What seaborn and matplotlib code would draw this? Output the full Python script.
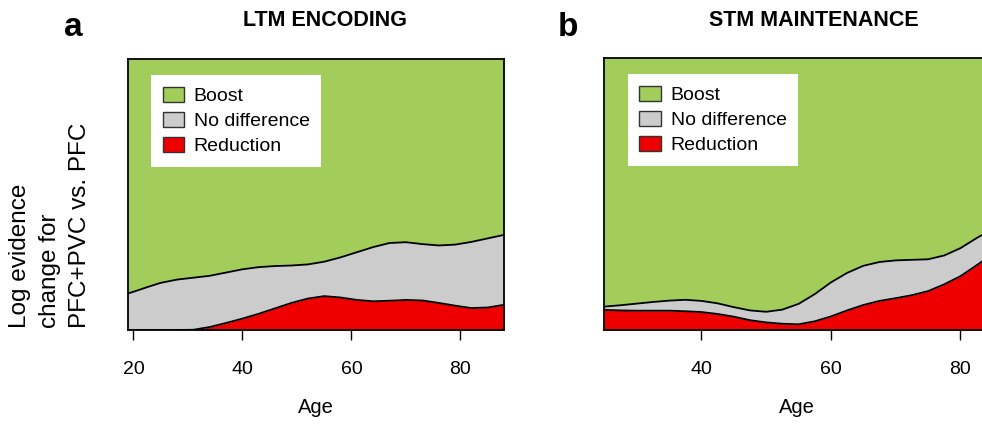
import numpy as np
import pandas as pd
import seaborn as sns
import matplotlib.pyplot as plt
from matplotlib.patches import Patch

# panel a: LTM encoding (cumulative proportions)
age_a = [19, 20, 22.5, 25, 28, 31, 34, 37, 40, 43, 46, 49, 52, 55, 58,
         61, 64, 67, 70, 73, 76, 79, 82, 85, 88]
red_top_a = [0, 0, 0, 0, 0, 0.001, 0.011, 0.026, 0.042, 0.060, 0.080, 0.100,
             0.116, 0.125, 0.120, 0.111, 0.106, 0.108, 0.111, 0.109, 0.100,
             0.090, 0.081, 0.083, 0.093]
gray_top_a = [0.135, 0.141, 0.158, 0.174, 0.186, 0.193, 0.200, 0.212, 0.224,
              0.232, 0.236, 0.238, 0.242, 0.252, 0.268, 0.287, 0.306, 0.321,
              0.324, 0.317, 0.312, 0.315, 0.325, 0.338, 0.351]

# panel b: STM maintenance
age_b = [25, 27.5, 30, 32.5, 35, 37.5, 40, 42.5, 45, 47.5, 50, 52.5, 55, 57.5,
         60, 62.5, 65, 67.5, 70, 72.5, 75, 77.5, 80, 82.5, 84.5]
red_top_b = [0.074, 0.072, 0.071, 0.071, 0.071, 0.069, 0.066, 0.059, 0.049,
             0.036, 0.028, 0.023, 0.021, 0.032, 0.050, 0.072, 0.092, 0.107,
             0.117, 0.128, 0.143, 0.168, 0.198, 0.238, 0.272]
gray_top_b = [0.086, 0.091, 0.097, 0.103, 0.108, 0.111, 0.107, 0.098, 0.084,
              0.072, 0.067, 0.075, 0.096, 0.132, 0.175, 0.210, 0.236, 0.250,
              0.256, 0.258, 0.260, 0.274, 0.301, 0.338, 0.365]

labels = ["Boost", "No difference", "Reduction"]
colors = ["#A2CD5A", "#CCCCCC", "#EE0000"]

sns.set_style("white")
plt.rcParams['font.family'] = ['Liberation Sans', 'DejaVu Sans']
plt.rcParams['text.color'] = 'black'
plt.rcParams['axes.labelcolor'] = 'black'
plt.rcParams['xtick.color'] = 'black'

W, H = 982, 424
fig = plt.figure(figsize=(W / 100, H / 100), dpi=100)


def px_axes(l, t, r, b):
    return fig.add_axes([l / W, 1 - b / H, (r - l) / W, (b - t) / H])


def draw_panel(ax, age, red_top, gray_top, xlim, ticks):
    df = pd.DataFrame({"age": age, "red": red_top, "gray": gray_top})
    ax.fill_between(df["age"], 0, df["red"], color=colors[2], lw=0)
    ax.fill_between(df["age"], df["red"], df["gray"], color=colors[1], lw=0)
    ax.fill_between(df["age"], df["gray"], 1, color=colors[0], lw=0)
    sns.lineplot(data=df, x="age", y="red", ax=ax, color="black", lw=1.3)
    sns.lineplot(data=df, x="age", y="gray", ax=ax, color="black", lw=1.3)
    ax.set_xlim(*xlim)
    ax.set_ylim(0, 1)
    ax.set_xticks(ticks)
    ax.set_yticks([])
    ax.set_ylabel("")
    ax.set_xlabel("Age", fontsize=14.5, labelpad=15)
    ax.tick_params(axis="x", direction="out", length=7, width=1, pad=15,
                   labelsize=14, bottom=True, color="black")
    for s in ax.spines.values():
        s.set_color("black")
        s.set_linewidth(1.3)
    handles = [Patch(facecolor=c, edgecolor="#333333", lw=1) for c in colors]
    leg = ax.legend(handles, labels, loc="upper left",
                    bbox_to_anchor=(0.061, 0.94), fontsize=14,
                    frameon=True, fancybox=False, framealpha=1,
                    edgecolor="white", handlelength=1.1, handleheight=0.85,
                    handletextpad=0.5, labelspacing=0.33, borderpad=0.6,
                    borderaxespad=0)
    leg.get_frame().set_linewidth(0)


ax1 = px_axes(128, 59, 504, 330)
draw_panel(ax1, age_a, red_top_a, gray_top_a, (19, 88), [20, 40, 60, 80])

ax2 = px_axes(604.3, 58, 989.6, 330)
draw_panel(ax2, age_b, red_top_b, gray_top_b, (25, 84.5), [40, 60, 80])

fig.text(325 / W, 1 - 20 / H, "LTM ENCODING", ha="center", va="center",
         fontsize=15.5, fontweight="bold")
fig.text(814 / W, 1 - 20 / H, "STM MAINTENANCE", ha="center", va="center",
         fontsize=15.5, fontweight="bold")
fig.text(73 / W, 1 - 28 / H, "a", ha="center", va="center",
         fontsize=24, fontweight="bold")
fig.text(568 / W, 1 - 27 / H, "b", ha="center", va="center",
         fontsize=24, fontweight="bold")
fig.text(50 / W, 1 - 328 / H, "Log evidence\nchange for\nPFC+PVC vs. PFC",
         rotation=90, ha="center", va="bottom", multialignment="left",
         fontsize=17.5, linespacing=1.45)

fig.savefig("out.png", dpi=100)
